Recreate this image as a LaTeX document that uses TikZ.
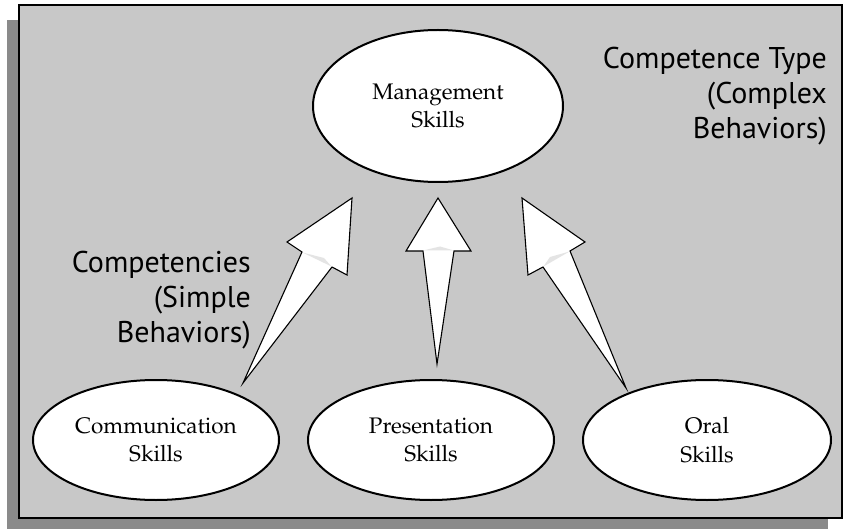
\documentclass[tikz,border=0pt]{standalone}
\usepackage[T1]{fontenc}
\usepackage{fontspec}
\newfontfamily\labfont{PT Sans}
\newcommand\palfont{\fontencoding{T1}\fontfamily{ppl}\selectfont}
\usetikzlibrary{shapes.geometric}
\definecolor{bggray}{HTML}{C8C8C8}
\definecolor{shadowgray}{HTML}{8A8A8A}
\definecolor{patchgray}{HTML}{E4E4E4}
\tikzset{
  skill/.style={ellipse, draw=black, line width=2pt, fill=white, inner sep=0pt,
    align=center, font=\palfont\fontsize{22.5}{28.5}\selectfont},
  arrowshape/.style={draw=black, line width=1.1pt, fill=white, line join=miter},
  patch/.style={fill=patchgray, draw=none},
  caption/.style={inner sep=0pt, align=right, font=\labfont\fontsize{30}{35}\selectfont}
}
\begin{document}
\begin{tikzpicture}[x=1pt,y=-1pt]
\useasboundingbox (0,0) rectangle (843,529);
% shadow and frame
\fill[shadowgray] (7,20) rectangle (828,529);
\draw[fill=bggray, line width=2pt] (19,5) rectangle (842,518);

% ellipses
\node[skill, minimum width=250pt, minimum height=152pt] (mgmt) at (438,106) {Management\\Skills};
\node[skill, minimum width=246pt, minimum height=120pt] (comm) at (156,440) {Communication\\Skills};
\node[skill, minimum width=246pt, minimum height=120pt] (pres) at (431,440) {Presentation\\Skills};
\node[skill, minimum width=248pt, minimum height=120pt] (oral) at (707,440) {Oral\\Skills};

% arrow coordinates
\coordinate (lt) at (243,383);
\coordinate (mt) at (437,364);
\coordinate (rt) at (626,388);

% left arrow
\draw[arrowshape] (lt) -- (302,252) -- (287,242) -- (352,198) -- (347,275) -- (332,267) -- cycle;
\fill[patch] (302.5,252.5) -- (331.5,266.5) -- (324,258) -- cycle;
% middle arrow
\draw[arrowshape] (mt) -- (423,251) -- (406,251) -- (438,198) -- (471,251) -- (454,251) -- cycle;
\fill[patch] (423.5,250.4) -- (453.5,250.4) -- (440,246.5) -- cycle;
% right arrow
\draw[arrowshape] (rt) -- (543,267) -- (528,275) -- (522,198) -- (585,242) -- (570,251) -- cycle;
\fill[patch] (543.5,266.5) -- (569.5,251.5) -- (550,257) -- cycle;

% captions
\node[caption, anchor=north east] (ctype) at (827,47) {Competence Type\\(Complex\\Behaviors)};
\node[caption, anchor=north east] (cies) at (251,251) {Competencies\\(Simple\\Behaviors)};
\end{tikzpicture}
\end{document}
